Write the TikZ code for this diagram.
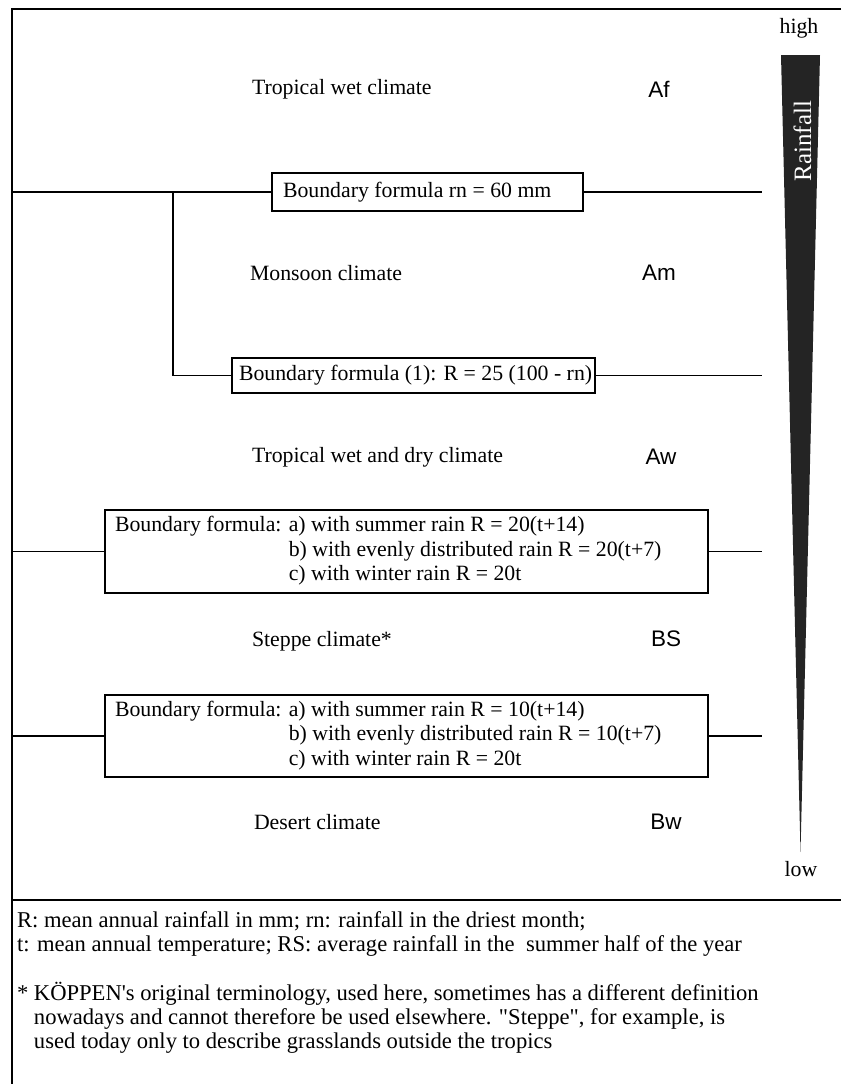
\documentclass[tikz,border=0pt]{standalone}
\usepackage{fontspec}
\setmainfont{Liberation Serif}
\newfontfamily\arialf{Liberation Sans}
\begin{document}
\begin{tikzpicture}[x=1pt,y=-1pt,
  every node/.style={inner sep=0pt, outer sep=0pt},
  clim/.style={anchor=west, font=\fontsize{21.8}{24.5}\selectfont},
  code/.style={anchor=center, font=\arialf\fontsize{22.5}{26}\selectfont},
  fbox/.style={draw, line width=1.3pt, anchor=west,
    font=\fontsize{21.8}{24.5}\selectfont},
  note/.style={anchor=west, align=left, font=\fontsize{22.6}{24}\selectfont},
  conn/.style={line width=1.4pt},
  frameline/.style={line width=1.8pt}
]
\useasboundingbox (0,0) rectangle (841,1084);

% frame
\coordinate (FTL) at (12,9);
\coordinate (FTR) at (841,9);
\coordinate (FBL) at (12,1084);
\coordinate (FML) at (12,900);
\coordinate (FMR) at (841,900);
\draw[frameline] (FTR) -- (FTL) -- (FBL);
\draw[frameline] (FML) -- (FMR);

% rainfall wedge
\fill[black!86] (781,55) -- (820,55) -- (800.5,852) -- cycle;
\node[rotate=90, text=white, font=\fontsize{25}{26}\selectfont] (rf) at (802.5,141) {Rainfall};
\node[font=\fontsize{21.8}{24}\selectfont] (high) at (799,28) {high};
\node[font=\fontsize{21.8}{24}\selectfont] (low) at (801,869) {low};

% climates
\node[clim] (c1) at (252,89) {Tropical wet climate};
\node[code] (k1) at (659,89) {Af};
\node[clim] (c2) at (250,273) {Monsoon climate};
\node[code] (k2) at (659,273) {Am};
\node[clim] (c3) at (252,457) {Tropical wet and dry climate};
\node[code] (k3) at (661,457) {Aw};
\node[clim] (c4) at (252,641) {Steppe climate*};
\node[code] (k4) at (666,639) {BS};
\node[clim] (c5) at (254,822) {Desert climate};
\node[code] (k5) at (666,822) {Bw};

% boundary boxes
\node[fbox, inner xsep=11pt, minimum height=38pt] (b1) at (272,192)
  {\makebox[289pt][l]{Boundary formula rn = 60 mm}};
\node[fbox, inner xsep=7pt, minimum height=35pt] (b2) at (232,375.5)
  {\makebox[349pt][l]{Boundary formula (1): R = 25 (100 - rn)}};
\node[fbox, inner xsep=10pt, minimum height=83pt] (b3) at (105,551.5)
  {\makebox[583pt][l]{\begin{tabular}{@{}l@{ }l@{}}
   Boundary formula: & a) with summer rain R = 20(t+14)\\
   & b) with evenly distributed rain R = 20(t+7)\\
   & c) with winter rain R = 20t
   \end{tabular}}};
\node[fbox, inner xsep=10pt, minimum height=82pt] (b4) at (105,736)
  {\makebox[583pt][l]{\begin{tabular}{@{}l@{ }l@{}}
   Boundary formula: & a) with summer rain R = 10(t+14)\\
   & b) with evenly distributed rain R = 10(t+7)\\
   & c) with winter rain R = 20t
   \end{tabular}}};

% connectors
\coordinate (L1) at (12,192);
\coordinate (J1) at (173,192);
\coordinate (R1) at (762,192);
\coordinate (R2) at (762,375.5);
\coordinate (L3) at (12,551.5);
\coordinate (R3) at (762,551.5);
\coordinate (L4) at (12,736);
\coordinate (R4) at (762,736);
\draw[conn] (L1) -- (b1.west);
\draw[conn] (b1.east) -- (R1);
\draw[conn] (J1) |- (b2.west);
\draw[conn] (b2.east) -- (R2);
\draw[conn] (L3) -- (b3.west);
\draw[conn] (b3.east) -- (R3);
\draw[conn] (L4) -- (b4.west);
\draw[conn] (b4.east) -- (R4);

% notes
\node[note] (n1) at (17,934)
  {R: mean annual rainfall in mm; rn: rainfall in the driest month;\\
   t: mean annual temperature; RS: average rainfall in the~ summer half of the year};
\node[note] (n2) at (17,1019)
  {\begin{tabular}{@{}l@{ }l@{}}
   * & K\"OPPEN\textquotesingle s original terminology, used here, sometimes has a different definition\\
   & nowadays and cannot therefore be used elsewhere. \textquotedbl Steppe\textquotedbl, for example, is\\
   & used today only to describe grasslands outside the tropics
   \end{tabular}};
\end{tikzpicture}
\end{document}
